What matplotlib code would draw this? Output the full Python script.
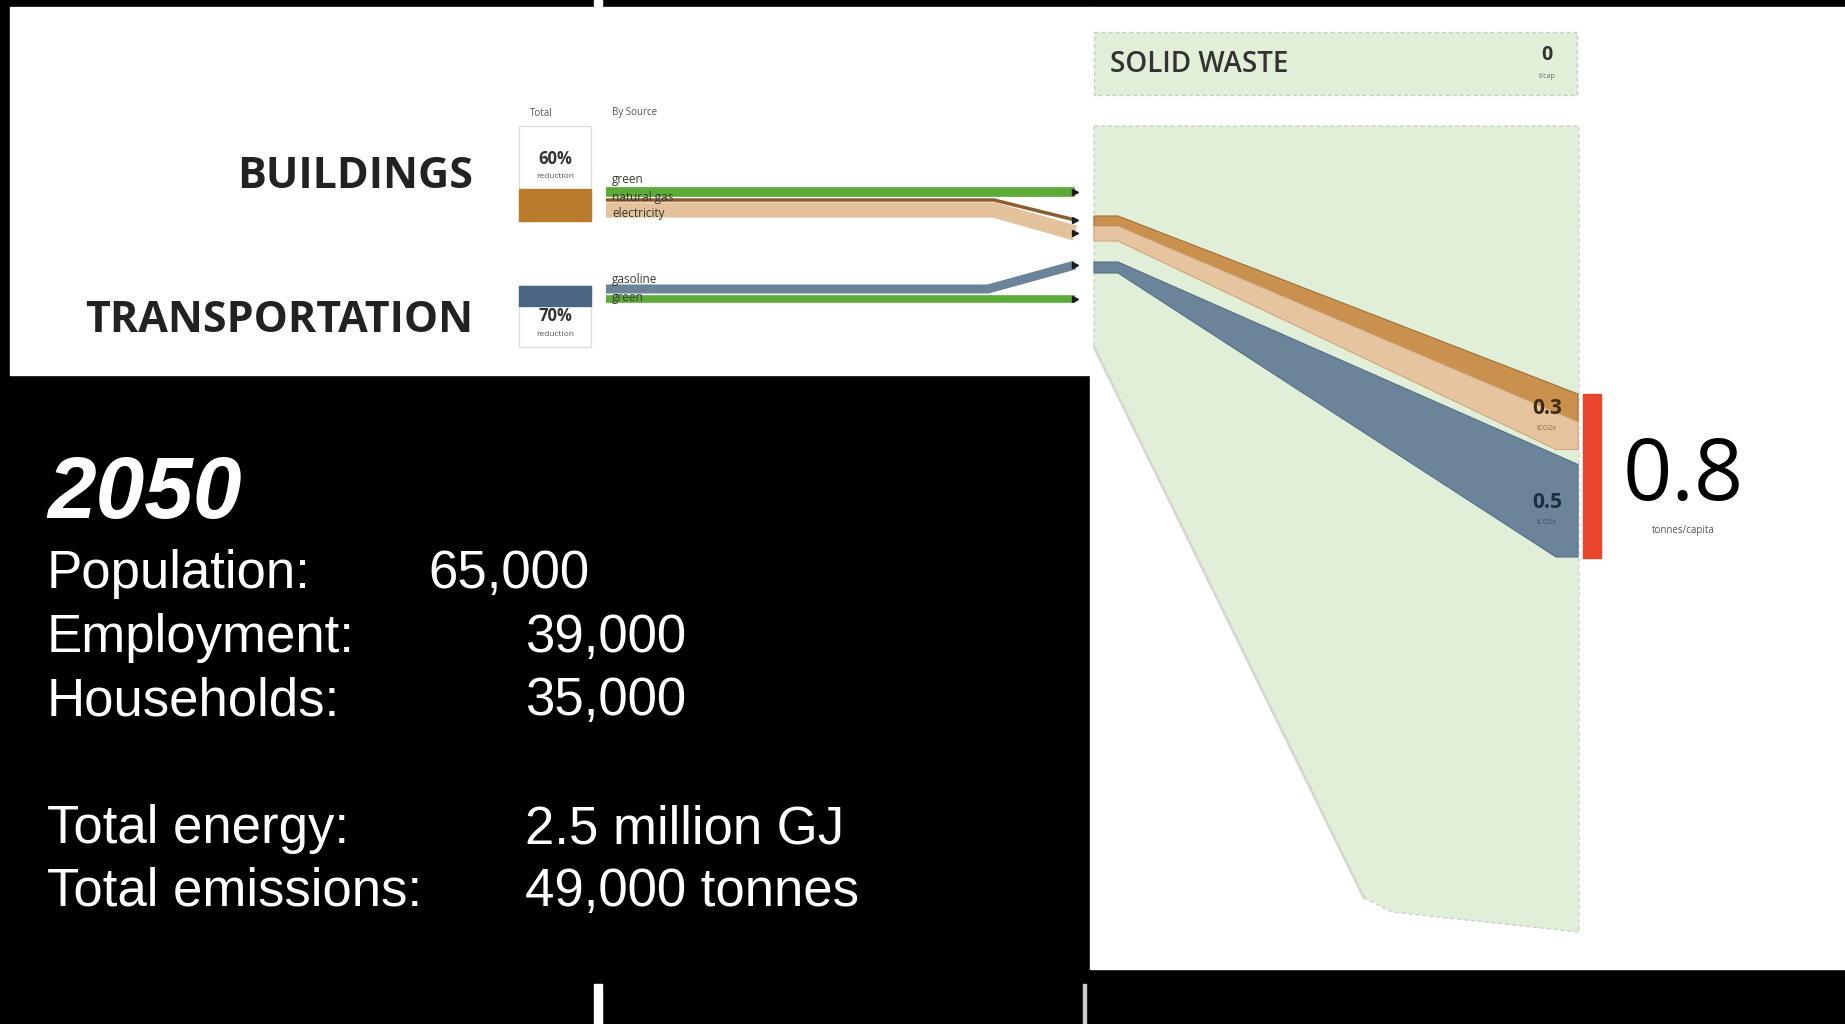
import matplotlib.pyplot as plt
from matplotlib.patches import Rectangle, Polygon

# ---- data ----
year = '2050'
stat_labels = ['Population:', 'Employment:', 'Households:', 'Total energy:', 'Total emissions:']
stat_values = ['65,000', '39,000', '35,000', '2.5 million GJ', '49,000 tonnes']

sectors = ['BUILDINGS', 'TRANSPORTATION']
reductions = ['60%', '70%']
building_sources = ['green', 'natural gas', 'electricity']
transport_sources = ['gasoline', 'green']

sector_tonnes = [0.3, 0.5]        # tonnes/capita per sector
total_tonnes = 0.8
solid_waste = 0

# ---- colours ----
green = '#5caa38'
gas_brown = '#8c5e2e'
elec_beige = '#e3c29c'
bld_dark = '#c9914d'
bld_light = '#e6c49f'
trans_blue = '#6b8499'
box_blue = '#4b6682'
box_brown = '#b97c2c'
waste_green = '#e2efd8'
red = '#e8452c'
dark = '#222222'

fig = plt.figure(figsize=(18.45, 10.24), dpi=100, facecolor='black')
ax = fig.add_axes([0, 0, 1, 1])
ax.set_xlim(0, 1845)
ax.set_ylim(1024, 0)
ax.axis('off')
ax.set_facecolor('black')

# white panels
ax.add_patch(Rectangle((10, 7), 1080, 368, color='white', zorder=0))
ax.add_patch(Rectangle((1090, 7), 755, 962, color='white', zorder=0))
ax.add_patch(Rectangle((594, 0), 8, 7, color='white', zorder=0))
ax.add_patch(Rectangle((594, 984), 8, 40, color='white', zorder=0))
ax.add_patch(Rectangle((1083, 984), 3, 40, color='#cccccc', zorder=0))

# ---- solid waste area ----
ax.add_patch(Rectangle((1094, 32), 483, 63, facecolor=waste_green, edgecolor='#c9c9c9',
                       ls=(0, (3, 2)), lw=1, zorder=1))
ax.text(1110, 65, 'SOLID WASTE', fontsize=20, family='Open Sans', color='#333333',
        va='center', ha='left', fontweight='semibold')
ax.text(1547, 55, str(solid_waste), fontsize=14, fontweight='bold', family='Open Sans',
        color='#333333', ha='center', va='center')
ax.text(1547, 76, 't/cap', fontsize=5, family='Open Sans', color='#666666', ha='center', va='center')

area = [(1094, 126), (1579, 126), (1579, 932), (1392, 912), (1364, 898),
        (1094, 347)]
ax.add_patch(Polygon(area, closed=True, facecolor=waste_green, edgecolor='#cfcfcf',
                     ls=(0, (3, 2)), lw=1, zorder=1))
ax.plot([1094, 1364], [347, 898], color='#d4d8d0', lw=2, zorder=1)

# ---- flows into the total ----
scale = 185  # px per tonne at the right end
x0, x1, x2 = 1094, 1118, 1578
top_right = 394
gap = 15

b_top0, b_bot0 = 216, 241
b_top2 = top_right
b_bot2 = b_top2 + sector_tonnes[0] * scale
b_mid0 = b_top0 + 0.4 * (b_bot0 - b_top0)
b_mid2 = b_top2 + 0.5 * (b_bot2 - b_top2)
ax.add_patch(Polygon([(x0, b_top0), (x1, b_top0), (x2, b_top2), (x2, b_mid2), (x1, b_mid0), (x0, b_mid0)],
                     facecolor=bld_dark, edgecolor='#a36f35', lw=0.8, zorder=2))
ax.add_patch(Polygon([(x0, b_mid0), (x1, b_mid0), (x2, b_mid2), (x2, b_bot2), (x2 - 22, b_bot2),
                      (x1, b_bot0), (x0, b_bot0)],
                     facecolor=bld_light, edgecolor='#cfa57a', lw=0.8, zorder=2))

t_top0, t_bot0 = 262, 273
t_top2 = b_bot2 + gap
t_bot2 = t_top2 + sector_tonnes[1] * scale
ax.add_patch(Polygon([(x0, t_top0), (x1, t_top0), (x2, t_top2), (x2, t_bot2), (x2 - 22, t_bot2),
                      (x1, t_bot0), (x0, t_bot0)],
                     facecolor=trans_blue, edgecolor='#56708a', lw=0.8, zorder=2))

ax.text(1547, 408, f'{sector_tonnes[0]:.1f}', fontsize=15, fontweight='bold', family='Open Sans',
        color='#3b2a10', ha='center', va='center', zorder=3)
ax.text(1547, 428, 'tCO2e', fontsize=5, family='Open Sans', color='#8a6a48', ha='center', va='center', zorder=3)
ax.text(1547, 502, f'{sector_tonnes[1]:.1f}', fontsize=15, fontweight='bold', family='Open Sans',
        color='#1c2e40', ha='center', va='center', zorder=3)
ax.text(1547, 522, 'tCO2e', fontsize=5, family='Open Sans', color='#3e5366', ha='center', va='center', zorder=3)

# red total bar
ax.add_patch(Rectangle((1583, top_right), 18, t_bot2 - top_right + 1, color=red, zorder=3))
ax.text(1683, 500, f'{total_tonnes:.1f}', fontsize=62, family='Open Sans', color='black',
        ha='center', va='baseline')
ax.text(1683, 531, 'tonnes/capita', fontsize=7, family='Open Sans', color='#555555',
        ha='center', va='center')

# ---- sector labels and total boxes ----
ax.text(473, 176, sectors[0], fontsize=31, fontweight='bold', family='Open Sans',
        color=dark, ha='right', va='center')
ax.text(473, 321, sectors[1], fontsize=31, fontweight='bold', family='Open Sans',
        color=dark, ha='right', va='center')

ax.text(541, 113, 'Total', fontsize=7, family='Open Sans', color='#555555', ha='center', va='center')
ax.text(612, 113, 'By Source', fontsize=7, family='Open Sans', color='#555555', ha='left', va='center')

ax.add_patch(Rectangle((519, 126), 72, 95, facecolor='white', edgecolor='#dddddd', lw=1, zorder=1))
ax.add_patch(Rectangle((519, 189), 72, 32, color=box_brown, zorder=2))
ax.text(555, 159, reductions[0], fontsize=12, fontweight='bold', family='Open Sans',
        color='#333333', ha='center', va='center')
ax.text(555, 176, 'reduction', fontsize=6, family='Open Sans', color='#555555', ha='center', va='center')

ax.add_patch(Rectangle((519, 286), 72, 61, facecolor='white', edgecolor='#dddddd', lw=1, zorder=1))
ax.add_patch(Rectangle((519, 286), 72, 20, color=box_blue, zorder=2))
ax.text(555, 316, reductions[1], fontsize=12, fontweight='bold', family='Open Sans',
        color='#333333', ha='center', va='center')
ax.text(555, 334, 'reduction', fontsize=6, family='Open Sans', color='#555555', ha='center', va='center')

# ---- by source lines ----
xs, xk, xe = 606, 994, 1075
ax.plot([xs, xe], [192, 192], color=green, lw=7, solid_capstyle='butt', zorder=2)
ax.plot([xs, xk, xe], [210, 210, 233], color=elec_beige, lw=11, solid_capstyle='butt', zorder=2)
ax.plot([xs, xk, xe], [200, 200, 220], color=gas_brown, lw=2.5, solid_capstyle='butt', zorder=3)
ax.plot([xs, xk - 6, xe], [289, 289, 265], color=trans_blue, lw=6.5, solid_capstyle='butt', zorder=2)
ax.plot([xs, xe], [299, 299], color=green, lw=5.5, solid_capstyle='butt', zorder=3)
ax.plot([xe, xe, xe, xe, xe], [192, 220, 233, 265, 299], ls='none', marker='>',
        markersize=5, color='#1a1a1a', zorder=4)

for lbl, y in zip(building_sources, [180, 197, 213]):
    ax.text(612, y, lbl, fontsize=8.5, family='Open Sans', color='#3a3a2a', ha='left', va='center', zorder=5)
for lbl, y in zip(transport_sources, [280, 298]):
    ax.text(612, y, lbl, fontsize=8.5, family='Open Sans', color='#3a3a3a', ha='left', va='center', zorder=5)

# ---- bottom-left summary ----
txt = ['Liberation Sans', 'DejaVu Sans']
ax.text(47, 518, year, fontsize=63, fontweight='bold', fontstyle='italic', family=txt,
        color='white', ha='left', va='baseline')
rows_y = [588, 652, 715, 843, 906]
vals_x = [428, 525, 525, 525, 525]
for lbl, val, y, vx in zip(stat_labels, stat_values, rows_y, vals_x):
    ax.text(47, y, lbl, fontsize=38, family=txt, color='white', ha='left', va='baseline')
    ax.text(vx, y, val, fontsize=38, family=txt, color='white', ha='left', va='baseline')

fig.savefig('out.png', dpi=100, facecolor='black')
